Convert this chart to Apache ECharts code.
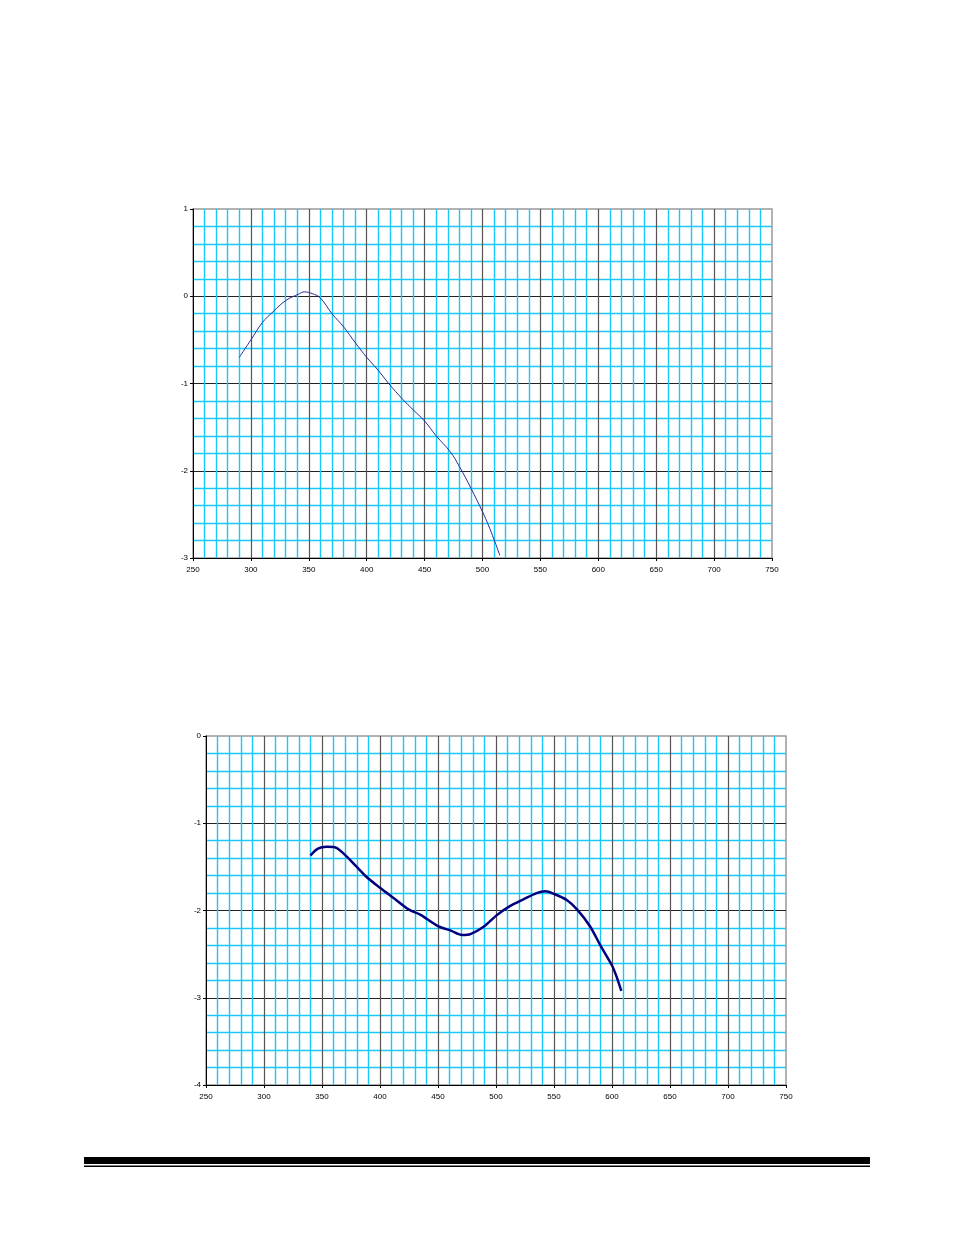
<!doctype html>
<html lang="en">
<head>
    <meta charset="utf-8" />
    <title>Curves</title>
    <script src="https://cdn.jsdelivr.net/npm/echarts@6/dist/echarts.min.js"></script>
</head>
<style type="text/css">
    html, body { margin: 0; padding: 0; background: #fff; }
    #chart { width: 954px; height: 1235px; }
</style>
<body>
<div id="chart"></div>
<script>
    // upper chart
    var topX = [290, 300, 310, 319, 330, 342, 346, 353, 360, 370, 380, 390, 400, 410, 419, 431, 440, 450, 460, 472, 480, 490, 500, 505, 510, 515];
    var topY = [-0.70, -0.50, -0.30, -0.18, -0.05, 0.03, 0.05, 0.03, -0.02, -0.20, -0.35, -0.53, -0.70, -0.85, -1.00, -1.18, -1.30, -1.43, -1.60, -1.78, -1.95, -2.20, -2.47, -2.62, -2.79, -2.97];
    var topYRange = [-3, 1];

    // lower chart
    var bottomX = [340, 346.5, 354, 361, 368, 380, 388, 400, 412, 425, 435, 450, 461, 471, 478, 489, 501, 512, 524, 535, 542.5, 550, 561, 570, 581, 590, 600, 604, 608];
    var bottomY = [-1.37, -1.29, -1.27, -1.275, -1.34, -1.50, -1.61, -1.74, -1.86, -1.99, -2.05, -2.18, -2.23, -2.28, -2.27, -2.19, -2.05, -1.95, -1.87, -1.80, -1.78, -1.81, -1.88, -1.99, -2.18, -2.40, -2.63, -2.76, -2.92];
    var bottomYRange = [-4, 0];

    // shared x scale
    var xRange = [250, 750];
    var xStep = 50;
    var yStep = 1;

    function zip(xs, ys) {
        var out = [];
        for (var i = 0; i < xs.length; i++) {
            out.push([xs[i], ys[i]]);
        }
        return out;
    }

    var labelFont = {
        fontFamily: 'Liberation Sans, Arial, sans-serif',
        fontSize: 8,
        color: '#000'
    };

    var minorLine = { show: true, lineStyle: { color: '#18c8f8', width: 1.4 } };

    function makeX(idx) {
        return {
            type: 'value',
            gridIndex: idx,
            min: xRange[0],
            max: xRange[1],
            interval: xStep,
            axisLine: { show: true, onZero: false, lineStyle: { color: '#000', width: 1 } },
            axisTick: { show: true, length: 3, lineStyle: { color: '#000' } },
            axisLabel: Object.assign({ margin: 8 }, labelFont),
            splitLine: { show: true, showMinLine: false, showMaxLine: false, lineStyle: { color: '#555', width: 1.2 } },
            minorTick: { show: false, splitNumber: 5 },
            minorSplitLine: minorLine
        };
    }

    function makeY(idx, range) {
        return {
            type: 'value',
            gridIndex: idx,
            min: range[0],
            max: range[1],
            interval: yStep,
            axisLine: { show: true, onZero: false, lineStyle: { color: '#000', width: 1 } },
            axisTick: { show: true, length: 3, lineStyle: { color: '#000' } },
            axisLabel: Object.assign({ margin: 5 }, labelFont),
            splitLine: { show: true, showMinLine: false, showMaxLine: false, lineStyle: { color: '#222', width: 1.2 } },
            minorTick: { show: false, splitNumber: 5 },
            minorSplitLine: minorLine
        };
    }

    var option = {
        animation: false,
        backgroundColor: '#fff',
        grid: [
            { left: 193, top: 209, width: 579, height: 349, show: true, borderColor: '#999', borderWidth: 1.5 },
            { left: 206, top: 736, width: 580, height: 349, show: true, borderColor: '#999', borderWidth: 1.5 }
        ],
        xAxis: [makeX(0), makeX(1)],
        yAxis: [makeY(0, topYRange), makeY(1, bottomYRange)],
        series: [
            {
                type: 'line',
                xAxisIndex: 0,
                yAxisIndex: 0,
                data: zip(topX, topY),
                smooth: 0.4,
                showSymbol: false,
                lineStyle: { color: '#2a2a9c', width: 1 }
            },
            {
                type: 'line',
                xAxisIndex: 1,
                yAxisIndex: 1,
                data: zip(bottomX, bottomY),
                smooth: 0.3,
                showSymbol: false,
                lineStyle: { color: '#00007f', width: 2.5 }
            }
        ],
        graphic: [
            { type: 'rect', shape: { x: 84, y: 1157, width: 786, height: 7 }, style: { fill: '#000' } },
            { type: 'rect', shape: { x: 84, y: 1165.5, width: 786, height: 1.5 }, style: { fill: '#000' } }
        ]
    };

    var chart = echarts.init(document.getElementById('chart'));
    chart.setOption(option);
</script>
</body>
</html>
